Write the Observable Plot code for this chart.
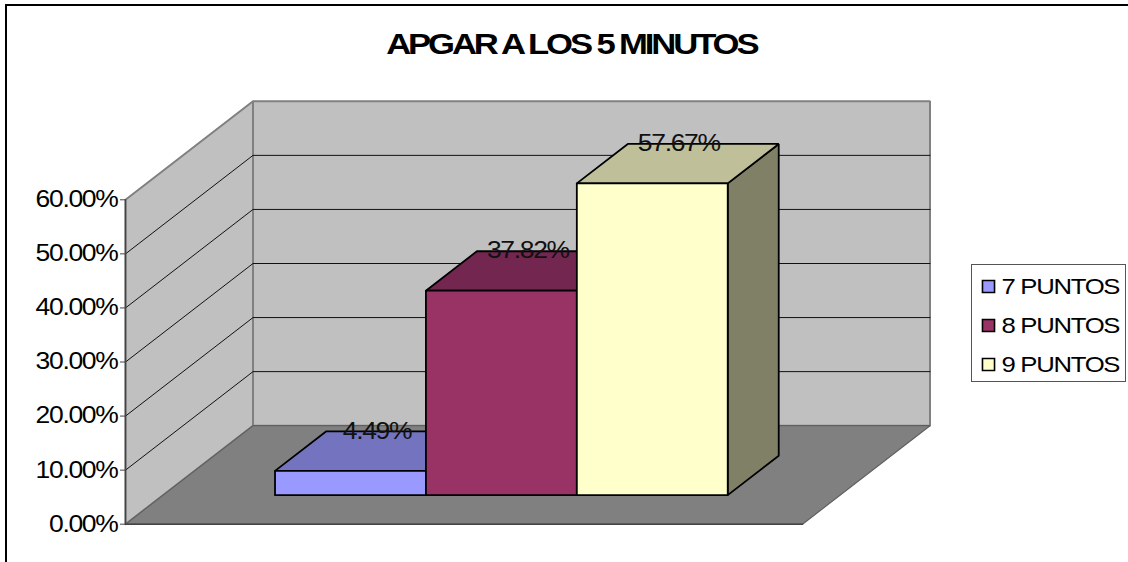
<!DOCTYPE html>
<html lang="es">
<head>
<meta charset="utf-8">
<title>APGAR A LOS 5 MINUTOS</title>
<script src="https://cdn.jsdelivr.net/npm/d3@7"></script>
<script src="https://cdn.jsdelivr.net/npm/@observablehq/plot@0.6"></script>
<style>
  html, body { margin: 0; padding: 0; background: #fff; overflow: hidden; }
  #page { position: relative; width: 1128px; height: 562px; overflow: hidden; font-family: "Liberation Sans", Arial, sans-serif; color: #000; }
  #edge { position: absolute; left: 5px; top: 4px; width: 1200px; height: 700px; border-left: 2px solid #000; border-top: 2px solid #000; }
  #title { position: absolute; left: 0; top: 27px; width: 1143px; text-align: center; margin: 0; font-size: 30px; line-height: 33px; font-weight: 700; }
  #title span { display: inline-block; letter-spacing: -0.09em; transform: scaleX(1.155); }
  #chart { position: absolute; left: 0; top: 0; }
  #legend { position: absolute; left: 971px; top: 264px; width: 153px; height: 116px; border: 1.5px solid #555; background: #fff; }
  svg { display: block; }
</style>
</head>
<body>
<div id="page">
  <div id="edge"></div>
  <div id="chart"></div>
  <h1 id="title"><span>APGAR A LOS 5 MINUTOS</span></h1>
  <div id="legend"></div>
</div>
<script>
// Chart values
const seriesNames = ["7 PUNTOS", "8 PUNTOS", "9 PUNTOS"];
const seriesValues = [4.49, 37.82, 57.67];
const tickValues = [0, 10, 20, 30, 40, 50, 60];

// Face colours for each column
const frontColors = ["#9999FF", "#993366", "#FFFFCC"];
const topColors = ["#7373BF", "#732650", "#BFBF99"];
const sideColors = ["#4D4D80", "#4D1A33", "#808066"];

// Oblique projection: depth 0 is the front of the floor, depth 1 the back wall
const depthX = 127.5 / 677;
const depthY = 98.5 / 5.407;
const project = (x, v, depth) => ({x: x + depth * depthX, y: v + depth * depthY});

// Column layout inside the floor, as fractions of its width and depth
const gapShare = 0.1653;
const barShare = 0.2229;
const depthFront = 0.295;
const depthBack = 0.695;

const polygon = (corners, options) =>
  Plot.line([...corners, corners[0]].map(([x, v, d]) => project(x, v, d)), {x: "x", y: "y", strokeLinejoin: "miter", ...options});

const wallOptions = {fill: "#C0C0C0", stroke: "#808080", strokeWidth: 2};

const gridMarks = tickValues.slice(1, -1).map((t) =>
  Plot.line([project(0, t, 0), project(0, t, 1), project(1, t, 1)], {x: "x", y: "y", stroke: "#111", strokeWidth: 1})
);

const barMarks = seriesValues.flatMap((value, i) => {
  const x0 = gapShare + i * barShare;
  const x1 = x0 + barShare;
  const edge = {stroke: "#000", strokeWidth: 1.8};
  return [
    polygon([[x1, 0, depthFront], [x1, 0, depthBack], [x1, value, depthBack], [x1, value, depthFront]], {fill: sideColors[i], ...edge}),
    polygon([[x0, value, depthFront], [x1, value, depthFront], [x1, value, depthBack], [x0, value, depthBack]], {fill: topColors[i], ...edge}),
    polygon([[x0, 0, depthFront], [x1, 0, depthFront], [x1, value, depthFront], [x0, value, depthFront]], {fill: frontColors[i], ...edge})
  ];
});

const labelData = seriesValues.map((value, i) => {
  const p = project(gapShare + (i + 0.5) * barShare, value, (depthFront + depthBack) / 2);
  return {...p, label: `${value.toFixed(2)}%`};
});

const chart = Plot.plot({
  width: 1128,
  height: 562,
  marginLeft: 125,
  marginRight: 326,
  marginTop: 199.3,
  marginBottom: 38.3,
  style: {background: "transparent", fontFamily: "Liberation Sans, Arial, sans-serif", color: "#000"},
  x: {domain: [0, 1], axis: null},
  y: {domain: [0, 60]},
  marks: [
    polygon([[0, 0, 1], [1, 0, 1], [1, 60, 1], [0, 60, 1]], wallOptions),
    polygon([[0, 0, 0], [0, 0, 1], [0, 60, 1], [0, 60, 0]], wallOptions),
    polygon([[0, 0, 0], [1, 0, 0], [1, 0, 1], [0, 0, 1]], {fill: "#808080", stroke: "#606060", strokeWidth: 1.2}),
    ...gridMarks,
    Plot.line([project(0, 0, 0), project(0, 60, 0)], {x: "x", y: "y", stroke: "#444", strokeWidth: 1.5}),
    Plot.line([project(0, 0, 0), project(1, 0, 0)], {x: "x", y: "y", stroke: "#444", strokeWidth: 1.5}),
    Plot.axisY({
      ticks: tickValues,
      tickFormat: (t) => `${t.toFixed(2)}%`,
      tickSize: 5,
      tickPadding: 3,
      fontSize: 23,
      label: null,
      stroke: "#444",
      className: "stretch"
    }),
    ...barMarks,
    Plot.text(labelData, {x: "x", y: "y", text: "label", dy: -20, dx: 1, fontSize: 23, fill: "#111", className: "stretch"})
  ]
});
document.getElementById("chart").append(chart);

// Series key, with its own point scale for the rows
const legendPlot = Plot.plot({
  width: 153,
  height: 116,
  marginLeft: 16,
  marginRight: 0,
  marginTop: 20,
  marginBottom: 17,
  style: {background: "transparent", fontFamily: "Liberation Sans, Arial, sans-serif", color: "#000"},
  x: {domain: [0, 1], axis: null},
  y: {type: "point", domain: seriesNames, padding: 0, axis: null},
  marks: [
    Plot.dot(seriesNames, {x: () => 0, y: (d) => d, symbol: "square", r: 6.8, fill: (d) => frontColors[seriesNames.indexOf(d)], stroke: "#000", strokeWidth: 1.6}),
    Plot.text(seriesNames, {x: () => 0, y: (d) => d, text: (d) => d, dx: 13, textAnchor: "start", fontSize: 22.5, className: "stretch"})
  ]
});
document.getElementById("legend").append(legendPlot);

// Wide, tightly set lettering for the axis, key and value labels
document.querySelectorAll(".stretch text, g.stretch text, text.stretch").forEach((node) => {
  const natural = node.getComputedTextLength();
  node.style.letterSpacing = "-0.05em";
  node.setAttribute("textLength", (natural * 1.05).toFixed(1));
  node.setAttribute("lengthAdjust", "spacingAndGlyphs");
});
</script>
</body>
</html>
